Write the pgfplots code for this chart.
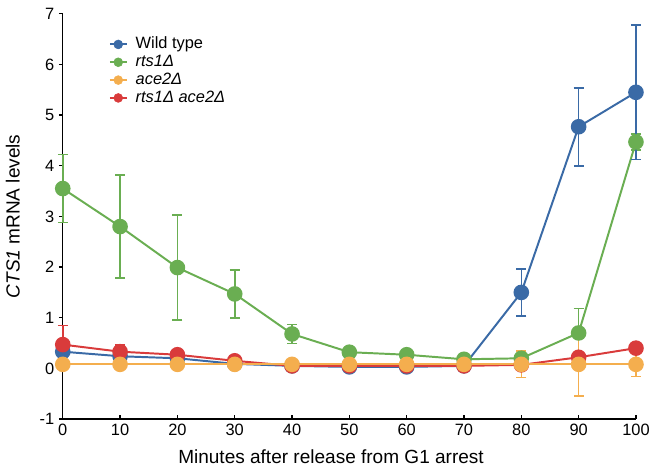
\documentclass[border=0pt]{standalone}
\usepackage{fontspec}
\setmainfont{Liberation Sans}
\usepackage{pgfplots}
\pgfplotsset{compat=1.18}
\definecolor{wtblue}{HTML}{3A6AA6}
\definecolor{rtsgreen}{HTML}{6AAE52}
\definecolor{aceorange}{HTML}{F4AE4E}
\definecolor{dblred}{HTML}{D93B3B}
\begin{document}
\begin{tikzpicture}
\begin{axis}[
  scale only axis,
  width=437pt, height=309pt,
  xmin=0, xmax=100, ymin=-1, ymax=7,
  xtick={0,10,...,100}, ytick={-1,0,...,7},
  axis lines*=left,
  axis line style={line width=1.1pt, black},
  tick style={line width=1.1pt, black},
  major tick length=3pt,
  xtick align=inside,
  ytick align=outside,
  clip=false,
  every tick label/.append style={font=\fontsize{12.5}{14}\selectfont},
  /pgf/number format/assume math mode=true,
  xlabel={Minutes after release from G1 arrest},
  ylabel={\textit{CTS1} mRNA levels},
  label style={font=\fontsize{14.5}{16}\selectfont},
  xlabel style={at={(axis description cs:0.468,0)}, anchor=center, yshift=-28.5pt},
  ylabel style={at={(axis description cs:-0.087,0.5)}, anchor=center, inner sep=4.5pt},
  extra description/.code={\path (axis description cs:0,1) ++(0pt,10.5pt);},
  every axis plot/.append style={line width=1.5pt, mark=*, mark size=5.2pt,
    error bars/y dir=both, error bars/y explicit,
    error bars/error bar style={line width=1.2pt},
    error bars/error mark options={rotate=90, mark size=3.8pt, line width=1.2pt}},
]
% green: rts1
\addplot[color=rtsgreen, mark options={fill=rtsgreen, draw=rtsgreen},
  error bars/error bar style={draw=rtsgreen}] coordinates {
  (0,3.55) +- (0,0.67)
  (10,2.80) +- (0,1.02)
  (20,1.99) +- (0,1.04)
  (30,1.47) +- (0,0.47)
  (40,0.68) +- (0,0.19)
  (50,0.32) +- (0,0.03)
  (60,0.27) +- (0,0.03)
  (70,0.18) +- (0,0.03)
  (80,0.20) +- (0,0.05)
  (90,0.70) +- (0,0.48)
  (100,4.47) +- (0,0.16)
};
% blue: wild type
\addplot[color=wtblue, mark options={fill=wtblue, draw=wtblue},
  error bars/error bar style={draw=wtblue}] coordinates {
  (0,0.33) +- (0,0.05)
  (10,0.24) +- (0,0.05)
  (20,0.20) +- (0,0.05)
  (30,0.09) +- (0,0.04)
  (40,0.05) +- (0,0.02)
  (50,0.03) +- (0,0.02)
  (60,0.03) +- (0,0.02)
  (70,0.05) +- (0,0.02)
  (80,1.50) +- (0,0.46)
  (90,4.77) +- (0,0.77)
  (100,5.45) +- (0,1.33)
};
% red: double
\addplot[color=dblred, mark options={fill=dblred, draw=dblred},
  error bars/error bar style={draw=dblred}] coordinates {
  (0,0.47) +- (0,0.38)
  (10,0.33) +- (0,0.13)
  (20,0.27) +- (0,0.10)
  (30,0.15) +- (0,0.05)
  (40,0.05) +- (0,0.02)
  (50,0.05) +- (0,0.02)
  (60,0.05) +- (0,0.02)
  (70,0.05) +- (0,0.02)
  (80,0.07) +- (0,0.03)
  (90,0.22) +- (0,0.08)
  (100,0.40) +- (0,0.05)
};
% orange: ace2
\addplot[color=aceorange, mark options={fill=aceorange, draw=aceorange},
  error bars/error bar style={draw=aceorange}] coordinates {
  (0,0.08) +- (0,0.02)
  (10,0.08) +- (0,0.02)
  (20,0.08) +- (0,0.02)
  (30,0.08) +- (0,0.02)
  (40,0.08) +- (0,0.02)
  (50,0.08) +- (0,0.02)
  (60,0.08) +- (0,0.02)
  (70,0.08) +- (0,0.02)
  (80,0.08) +- (0,0.26)
  (90,0.08) +- (0,0.63)
  (100,0.08) +- (0,0.24)
};
\end{axis}
\begin{axis}[
  scale only axis, width=437pt, height=309pt,
  xmin=0, xmax=100, ymin=-1, ymax=7, hide axis,
  legend style={at={(0.08,0.947)}, anchor=north west, draw=none, fill=none,
    inner sep=0pt, font=\fontsize{12.5}{14}\selectfont, row sep=0pt,
    nodes={inner sep=1pt, text height=9pt, text depth=2.6pt}},
  legend cell align=left,
  legend image code/.code={
    \draw[line width=1.5pt] (0pt,0pt) -- (12.75pt,0pt);
    \fill (6.4pt,0pt) circle (3.4pt);
    \path (18.5pt,0pt);}
]
\addlegendimage{color=wtblue}
\addlegendentry{Wild type}
\addlegendimage{color=rtsgreen}
\addlegendentry{\textit{rts1Δ}}
\addlegendimage{color=aceorange}
\addlegendentry{\textit{ace2Δ}}
\addlegendimage{color=dblred}
\addlegendentry{\textit{rts1Δ ace2Δ}}
\end{axis}
\end{tikzpicture}
\end{document}
